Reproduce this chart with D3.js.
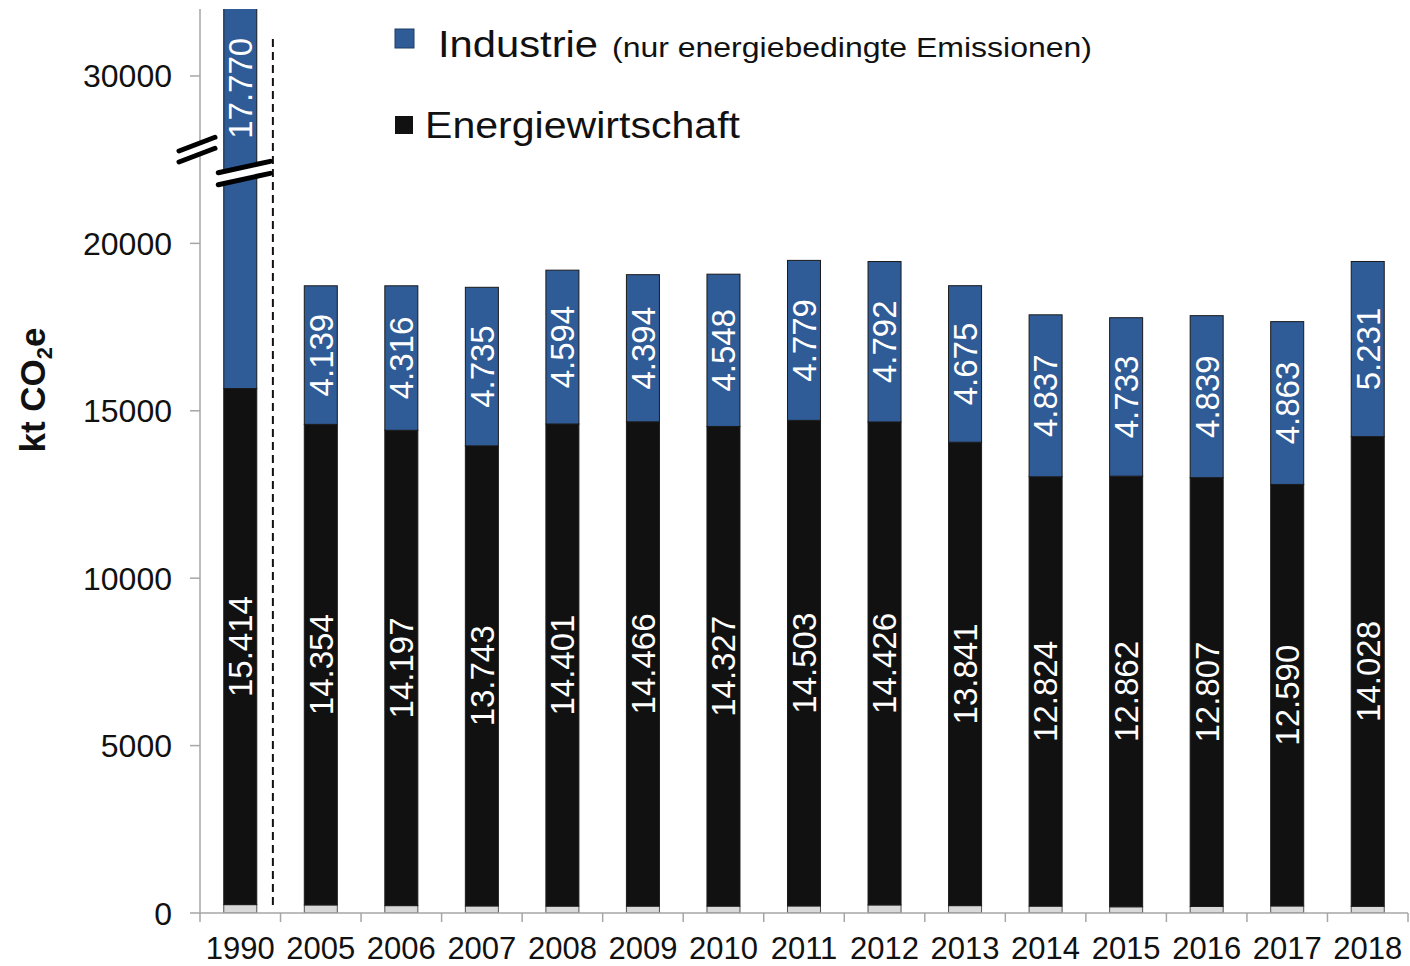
<!DOCTYPE html>
<html>
<head>
<meta charset="utf-8">
<script src="https://cdn.jsdelivr.net/npm/d3@7/dist/d3.min.js"></script>
<style>
  html, body { margin: 0; padding: 0; background: #ffffff; }
  svg { display: block; font-family: "Liberation Sans", Arial, sans-serif; }
</style>
</head>
<body>
<svg id="chart" width="1410" height="966"></svg>
<script>
// ---- data ----
const years = ["1990","2005","2006","2007","2008","2009","2010","2011","2012","2013","2014","2015","2016","2017","2018"];
const energiewirtschaft = [15414,14354,14197,13743,14401,14466,14327,14503,14426,13841,12824,12862,12807,12590,14028];
const industrie = [17770,4139,4316,4735,4594,4394,4548,4779,4792,4675,4837,4733,4839,4863,5231];
const sonstige = [250,240,220,210,205,205,205,210,240,220,205,185,195,210,200];
const energieLabels = ["15.414","14.354","14.197","13.743","14.401","14.466","14.327","14.503","14.426","13.841","12.824","12.862","12.807","12.590","14.028"];
const industrieLabels = ["17.770","4.139","4.316","4.735","4.594","4.394","4.548","4.779","4.792","4.675","4.837","4.733","4.839","4.863","5.231"];
const yTicks = [0,5000,10000,15000,20000,30000];
const yTickLabels = ["0","5000","10000","15000","20000","30000"];
const axisGap = 5000;      // values above the break are shown shifted down by this amount
const breakValue = 22500;  // where the axis is cut

// ---- layout ----
const svg = d3.select("#chart");
const plotLeft = 200, plotRight = 1408, plotTop = 9, plotBottom = 913;
const colors = { sonstige: "#d9d9d9", energie: "#111111", industrie: "#2f5b96" };

const x = d3.scaleBand().domain(years).range([plotLeft, plotRight]).paddingInner(0.59).paddingOuter(0.295);
const y = d3.scaleLinear().domain([0, 27000]).range([plotBottom, plotTop]);
const disp = v => (v > breakValue ? v - axisGap : v);
const Y = v => y(disp(v));

const rows = years.map((yr, i) => ({ year: yr, sonstige: sonstige[i], energie: energiewirtschaft[i], industrie: industrie[i] }));
const stack = d3.stack().keys(["sonstige","energie","industrie"]);
const series = stack(rows);

svg.append("defs").append("clipPath").attr("id","plotclip")
  .append("rect").attr("x", plotLeft).attr("y", plotTop).attr("width", plotRight - plotLeft).attr("height", plotBottom - plotTop);

// bars
const barG = svg.append("g").attr("clip-path","url(#plotclip)");
series.forEach(s => {
  barG.selectAll(null).data(s).join("rect")
    .attr("x", d => x(d.data.year))
    .attr("width", x.bandwidth())
    .attr("y", d => Math.max(plotTop - 5, Y(d[1])))
    .attr("height", d => Y(d[0]) - Math.max(plotTop - 5, Y(d[1])))
    .attr("fill", colors[s.key])
    .attr("stroke", s.key === "sonstige" ? "#555" : "#1a1a1a")
    .attr("stroke-width", 1);
});

// axes
const axisColor = "#a6a6a6";
svg.append("line").attr("x1", plotLeft).attr("x2", plotLeft).attr("y1", plotTop).attr("y2", plotBottom)
  .attr("stroke", axisColor).attr("stroke-width", 1.5);
svg.append("line").attr("x1", plotLeft).attr("x2", plotRight).attr("y1", plotBottom).attr("y2", plotBottom)
  .attr("stroke", axisColor).attr("stroke-width", 1.5);

// y ticks
const yt = svg.append("g");
yTicks.forEach((v, i) => {
  yt.append("line").attr("x1", plotLeft - 10).attr("x2", plotLeft).attr("y1", Y(v)).attr("y2", Y(v))
    .attr("stroke", axisColor).attr("stroke-width", 1.5);
  yt.append("text").attr("x", 172).attr("y", Y(v)).attr("dy", "0.36em")
    .attr("text-anchor", "end").attr("font-size", 32).attr("fill", "#111").text(yTickLabels[i]);
});

// x ticks at category boundaries
const xt = svg.append("g");
const boundaries = years.map(yr => x(yr) - x.step() * x.paddingInner() / 2).concat([plotRight]);
boundaries.forEach(bx => {
  xt.append("line").attr("x1", bx).attr("x2", bx).attr("y1", plotBottom).attr("y2", plotBottom + 9)
    .attr("stroke", axisColor).attr("stroke-width", 1.5);
});
years.forEach(yr => {
  xt.append("text").attr("x", x(yr) + x.bandwidth() / 2).attr("y", 959)
    .attr("text-anchor", "middle").attr("font-size", 31).attr("fill", "#111").text(yr);
});

// data labels
const lbl = svg.append("g");
rows.forEach((r, i) => {
  const cx = x(r.year) + x.bandwidth() / 2;
  const e0 = r.sonstige, e1 = r.sonstige + r.energie;
  const ey = (Y(e0) + Y(e1)) / 2;
  lbl.append("text").attr("transform", `translate(${cx},${ey}) rotate(-90)`)
    .attr("text-anchor", "middle").attr("dy", "0.36em").attr("font-size", 33).attr("fill", "#ffffff")
    .text(energieLabels[i]);
  const top = e1 + r.industrie;
  let iy;
  if (top > breakValue) {
    iy = (Math.max(plotTop, Y(top)) + y(breakValue)) / 2 + 4;
  } else {
    iy = (Y(e1) + Y(top)) / 2;
  }
  lbl.append("text").attr("transform", `translate(${cx},${iy}) rotate(-90)`)
    .attr("text-anchor", "middle").attr("dy", "0.36em").attr("font-size", 33).attr("fill", "#ffffff")
    .text(industrieLabels[i]);
});

// dashed separator between 1990 and 2005
const sepX = x("1990") + x.bandwidth() / 2 + x.step() * 0.405;
svg.append("line").attr("x1", sepX).attr("x2", sepX).attr("y1", 39).attr("y2", 905)
  .attr("stroke", "#111").attr("stroke-width", 2).attr("stroke-dasharray", "8,5");

// break marks
function breakMark(cx, cy, w, slope, gap) {
  const g = svg.append("g");
  const x1 = cx - w / 2, x2 = cx + w / 2;
  const y1 = cy + slope * w / 2, y2 = cy - slope * w / 2;
  g.append("polygon")
    .attr("points", `${x1},${y1 - gap/2} ${x2},${y2 - gap/2} ${x2},${y2 + gap/2} ${x1},${y1 + gap/2}`)
    .attr("fill", "#ffffff");
  [-gap/2, gap/2].forEach(o => {
    g.append("line").attr("x1", x1).attr("y1", y1 + o).attr("x2", x2).attr("y2", y2 + o)
      .attr("stroke", "#000").attr("stroke-width", 5).attr("stroke-linecap", "round");
  });
}
breakMark(plotLeft - 3, y(breakValue + 300), 36, 0.38, 11);
breakMark(x("1990") + x.bandwidth() / 2 + 4, y(breakValue - 400), 52, 0.22, 12);

// y axis title
const yTitle = svg.append("text").attr("transform", "translate(45,390) rotate(-90)")
  .attr("text-anchor", "middle").attr("font-size", 35).attr("font-weight", "bold").attr("fill", "#111");
yTitle.append("tspan").text("kt CO");
yTitle.append("tspan").attr("font-size", 22).attr("dy", 7).text("2");
yTitle.append("tspan").attr("dy", -7).text("e");

// legend
const leg = svg.append("g");
leg.append("rect").attr("x", 395).attr("y", 29).attr("width", 19).attr("height", 19)
  .attr("fill", colors.industrie).attr("stroke", "#1f3d66").attr("stroke-width", 1);
leg.append("text").attr("x", 438).attr("y", 57).attr("font-size", 36).attr("fill", "#111")
  .attr("textLength", 160).attr("lengthAdjust", "spacingAndGlyphs").text("Industrie");
leg.append("text").attr("x", 612).attr("y", 57).attr("font-size", 27).attr("fill", "#111")
  .attr("textLength", 480).attr("lengthAdjust", "spacingAndGlyphs").text("(nur energiebedingte Emissionen)");
leg.append("rect").attr("x", 395).attr("y", 116).attr("width", 18).attr("height", 18)
  .attr("fill", colors.energie);
leg.append("text").attr("x", 425).attr("y", 138).attr("font-size", 36).attr("fill", "#111")
  .attr("textLength", 315).attr("lengthAdjust", "spacingAndGlyphs").text("Energiewirtschaft");
</script>
</body>
</html>
